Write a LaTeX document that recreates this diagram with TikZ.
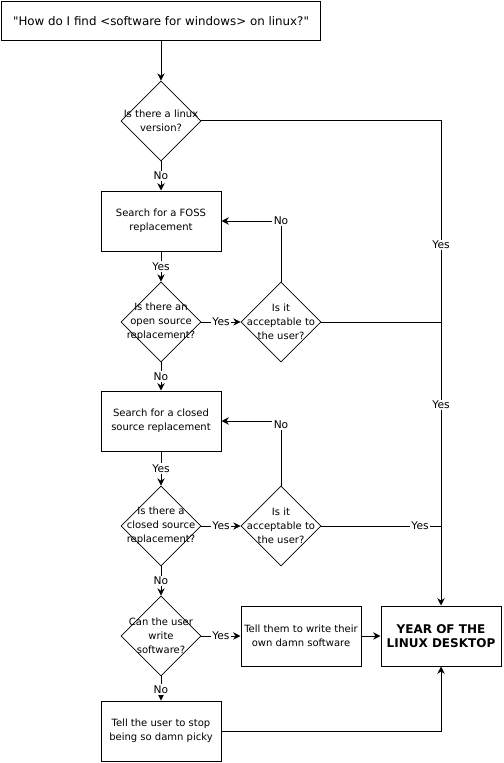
\documentclass[tikz,border=0pt]{standalone}
\usepackage{fontspec}
\setmainfont{DejaVu Sans}[Ligatures=TeXOff]
\usetikzlibrary{arrows.meta,shapes.geometric}

\tikzset{
  box/.style={draw, line width=0.75pt, minimum width=90pt, minimum height=45pt, inner sep=0pt, align=center, font=\fontsize{7.5}{10.5}\selectfont},
  dia/.style={draw, diamond, line width=0.55pt, minimum width=60pt, minimum height=60pt, inner sep=0pt},
  qtext/.style={align=center, inner sep=0pt, font=\fontsize{7.5}{10.5}\selectfont},
  lbl/.style={fill=white, inner sep=1pt, font=\fontsize{8}{9}\selectfont},
  arr/.style={line width=0.75pt, -{Stealth[length=5.5pt,width=5.5pt]}},
  ln/.style={line width=0.75pt}
}

\begin{document}
\begin{tikzpicture}[x=0.75pt, y=-0.75pt]
  \useasboundingbox (0,0) rectangle (503,763);

  % Question at the top
  \node[box, minimum width=239.25pt, minimum height=29.25pt, font=\fontsize{8.9}{10}\selectfont] (start) at (161,21.5) {"How do I find <software for windows> on linux?"};

  % Decisions and steps
  \node[dia] (d1) at (161,121) {};
  \node[qtext] at (d1) {Is there a linux\\version?};

  \node[box] (foss) at (161,221) {Search for a FOSS\\replacement};

  \node[dia] (d2) at (161,322) {};
  \node[qtext] at (d2) {Is there an\\open source\\replacement?};
  \node[dia] (d3) at (281,322) {};
  \node[qtext] at (d3) {Is it\\acceptable to\\the user?};

  \node[box] (closed) at (161,421) {Search for a closed\\source replacement};

  \node[dia] (d4) at (161,526) {};
  \node[qtext] at (d4) {Is there a\\closed source\\replacement?};
  \node[dia] (d5) at (281,526) {};
  \node[qtext] at (d5) {Is it\\acceptable to\\the user?};

  \node[dia] (d6) at (161,636) {};
  \node[qtext] at (d6) {Can the user\\write\\software?};
  \node[box] (write) at (301,636) {Tell them to write their\\own damn software};
  \node[box, font=\bfseries\fontsize{9}{10.5}\selectfont] (year) at (441,636) {YEAR OF THE\\LINUX DESKTOP};

  \node[box] (picky) at (161,731) {Tell the user to stop\\being so damn picky};

  % Main column
  \draw[arr] (start.south) -- (d1.north);
  \draw[arr] (d1.south) -- node[lbl]{No} (foss.north);
  \draw[arr] (foss.south) -- node[lbl]{Yes} (d2.north);
  \draw[arr] (d2.east) -- node[lbl]{Yes} (d3.west);
  \draw[arr] (d3.north) |- node[lbl]{No} (foss.east);
  \draw[arr] (d2.south) -- node[lbl]{No} (closed.north);
  \draw[arr] (closed.south) -- node[lbl]{Yes} (d4.north);
  \draw[arr] (d4.east) -- node[lbl]{Yes} (d5.west);
  \draw[arr] (d5.north) |- node[lbl,pos=0.47]{No} (closed.east);
  \draw[arr] (d4.south) -- node[lbl]{No} (d6.north);
  \draw[arr] (d6.east) -- node[lbl]{Yes} (write.west);
  \draw[arr] (d6.south) -- node[lbl,pos=0.55]{No} (picky.north);
  \draw[arr] (write.east) -- (year.west);

  % Right trunk
  \draw[arr] (d1.east) -| node[lbl,pos=0.628]{Yes} node[lbl,pos=0.793]{Yes} (year.north);
  \draw[ln] (d3.east) -- (d3.east -| year.north);
  \draw[ln] (d5.east) -- node[lbl,pos=0.825]{Yes} (d5.east -| year.north);
  \draw[arr] (picky.east) -| (year.south);
\end{tikzpicture}
\end{document}
